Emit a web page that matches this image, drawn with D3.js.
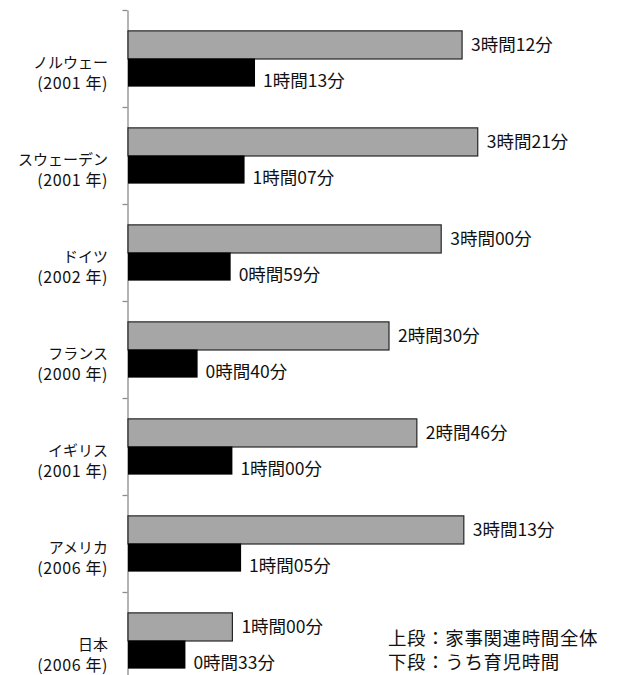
<!DOCTYPE html>
<html lang="ja">
<head>
<meta charset="utf-8">
<script src="https://cdn.jsdelivr.net/npm/d3@7"></script>
<style>
  html, body { margin: 0; padding: 0; background: #fff; }
  svg { display: block; font-family: "Noto Sans CJK JP", "Noto Sans", sans-serif; }
</style>
</head>
<body>
<svg id="chart" width="630" height="675"></svg>
<script>
// Countries (with survey year) and minutes per day
const countries = ["ノルウェー", "スウェーデン", "ドイツ", "フランス", "イギリス", "アメリカ", "日本"];
const years = ["(2001 年)", "(2001 年)", "(2002 年)", "(2000 年)", "(2001 年)", "(2006 年)", "(2006 年)"];
// 家事関連時間全体 (upper bar), minutes
const totalMinutes = [192, 201, 180, 150, 166, 193, 60];
// うち育児時間 (lower bar), minutes
const childcareMinutes = [73, 67, 59, 40, 60, 65, 33];
const legendLines = ["上段：家事関連時間全体", "下段：うち育児時間"];

const fmt = m => `${Math.floor(m / 60)}時間${String(m % 60).padStart(2, "0")}分`;

const svg = d3.select("#chart");
const axisX = 128;
const plotTop = 10, step = 97;

const x = d3.scaleLinear().domain([0, 300]).range([axisX, axisX + 522]);
const y = d3.scaleBand()
  .domain(countries)
  .range([plotTop, plotTop + step * countries.length])
  .paddingInner(0.42)
  .paddingOuter(0.21);
const half = y.bandwidth() / 2;

// category axis with ticks at band boundaries
const boundary = d3.scaleLinear().domain([0, countries.length]).range([plotTop, plotTop + step * countries.length]);
const axis = svg.append("g")
  .attr("transform", `translate(${axisX - 0.5},0)`)
  .call(d3.axisLeft(boundary).tickValues(d3.range(countries.length + 1)).tickFormat("").tickSize(5).tickSizeOuter(0));
axis.select(".domain").attr("stroke", "#8c8c8c").attr("stroke-width", 1.3);
axis.selectAll(".tick line").attr("stroke", "#8c8c8c").attr("stroke-width", 1.3);

const rows = countries.map((c, i) => ({ c, year: years[i], total: totalMinutes[i], child: childcareMinutes[i] }));

const g = svg.append("g");

// upper bars: total housework-related time
g.selectAll("rect.total").data(rows).join("rect")
  .attr("class", "total")
  .attr("x", x(0))
  .attr("y", d => y(d.c) + 0.5)
  .attr("width", d => x(d.total) - x(0))
  .attr("height", half)
  .attr("fill", "#a6a6a6")
  .attr("stroke", "#262626")
  .attr("stroke-width", 1.2);

// lower bars: childcare time
g.selectAll("rect.child").data(rows).join("rect")
  .attr("class", "child")
  .attr("x", x(0))
  .attr("y", d => y(d.c) + half)
  .attr("width", d => x(d.child) - x(0))
  .attr("height", half)
  .attr("fill", "#000");

// value labels
g.selectAll("text.totalLabel").data(rows).join("text")
  .attr("class", "totalLabel")
  .attr("x", d => x(d.total) + 9)
  .attr("y", d => y(d.c) + half / 2 + 6.5)
  .attr("font-size", 17.5)
  .attr("fill", "#111")
  .text(d => fmt(d.total));

g.selectAll("text.childLabel").data(rows).join("text")
  .attr("class", "childLabel")
  .attr("x", d => x(d.child) + 8)
  .attr("y", d => y(d.c) + half * 1.5 + 14.5)
  .attr("font-size", 17.5)
  .attr("fill", "#111")
  .text(d => fmt(d.child));

// category labels: country name over survey year
const cat = svg.append("g").attr("text-anchor", "end").attr("fill", "#111");
cat.selectAll("text.name").data(rows).join("text")
  .attr("class", "name")
  .attr("x", 108)
  .attr("y", d => y(d.c) - 20.5 + 58)
  .attr("font-size", 15)
  .text(d => d.c);
cat.selectAll("text.year").data(rows).join("text")
  .attr("class", "year")
  .attr("x", 108)
  .attr("y", d => y(d.c) - 20.5 + 79)
  .attr("font-size", 16)
  .attr("letter-spacing", 0.6)
  .text(d => d.year);

// legend
svg.append("g").selectAll("text").data(legendLines).join("text")
  .attr("x", 388)
  .attr("y", (d, i) => 645 + i * 24)
  .attr("font-size", 18.5)
  .attr("letter-spacing", 0.6)
  .attr("fill", "#111")
  .text(d => d);
</script>
</body>
</html>
